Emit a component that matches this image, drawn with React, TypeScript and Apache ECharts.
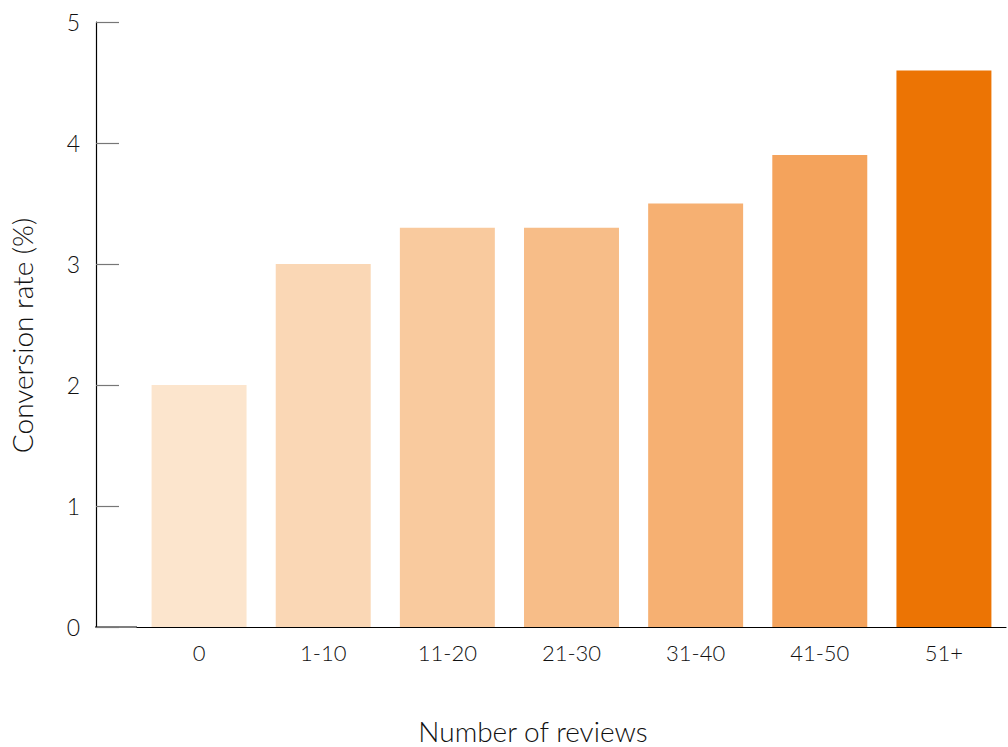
import React, { useEffect, useRef } from "react";
import * as echarts from "echarts";

const categories = ["0", "1-10", "11-20", "21-30", "31-40", "41-50", "51+"];
const conversionRates = [2.0, 3.0, 3.3, 3.3, 3.5, 3.9, 4.6];
const barColors = ["#FCE5CD", "#FAD7B5", "#F9CA9E", "#F7BD88", "#F6B072", "#F4A35C", "#EC7404"];
const yTicks = [0, 1, 2, 3, 4, 5];

const FONT = "Lato";

export default function App() {
  const ref = useRef<HTMLDivElement>(null);
  useEffect(() => {
    if (!ref.current) return;
    const chart = echarts.init(ref.current, null, { renderer: "svg" });
    chart.setOption({
      animation: false,
      textStyle: { fontFamily: FONT, fontWeight: 300 },
      title: {
        text: "Number of reviews",
        left: 528,
        top: 712,
        textAlign: "center",
        textStyle: { fontFamily: FONT, fontWeight: 300, fontSize: 28, color: "#111" },
      },
      grid: { left: 136, right: 2, top: 22, bottom: 120, containLabel: false },
      xAxis: {
        type: "category",
        data: categories,
        axisLine: { show: true, lineStyle: { color: "#000", width: 1.2 } },
        axisTick: { show: false },
        axisLabel: { fontFamily: FONT, fontWeight: 300, fontSize: 22, color: "#111", margin: 14 },
      },
      yAxis: {
        type: "value",
        min: yTicks[0],
        max: yTicks[yTicks.length - 1],
        interval: 1,
        offset: 41,
        name: "Conversion rate (%)",
        nameLocation: "middle",
        nameGap: 60,
        nameTextStyle: {
          fontFamily: FONT,
          fontWeight: 300,
          fontSize: 28,
          color: "#111",
          padding: [0, 22, 0, 0],
        },
        axisLine: { show: true, lineStyle: { color: "#000", width: 1.2 } },
        axisTick: { show: true, inside: true, length: 23, lineStyle: { color: "#777", width: 1.2 } },
        splitLine: { show: false },
        axisLabel: { fontFamily: FONT, fontWeight: 300, fontSize: 23, color: "#111", margin: 16 },
      },
      graphic: [
        {
          type: "line",
          shape: { x1: 95, y1: 627, x2: 137, y2: 627 },
          style: { stroke: "#000", lineWidth: 1.2 },
        },
      ],
      series: [
        {
          type: "bar",
          data: conversionRates.map((v, i) => ({ value: v, itemStyle: { color: barColors[i] } })),
          barCategoryGap: "23.5%",
        },
      ],
    });
    return () => chart.dispose();
  }, []);
  return <div ref={ref} style={{ width: 1008, height: 747, position: "absolute", left: 0, top: 0 }} />;
}
